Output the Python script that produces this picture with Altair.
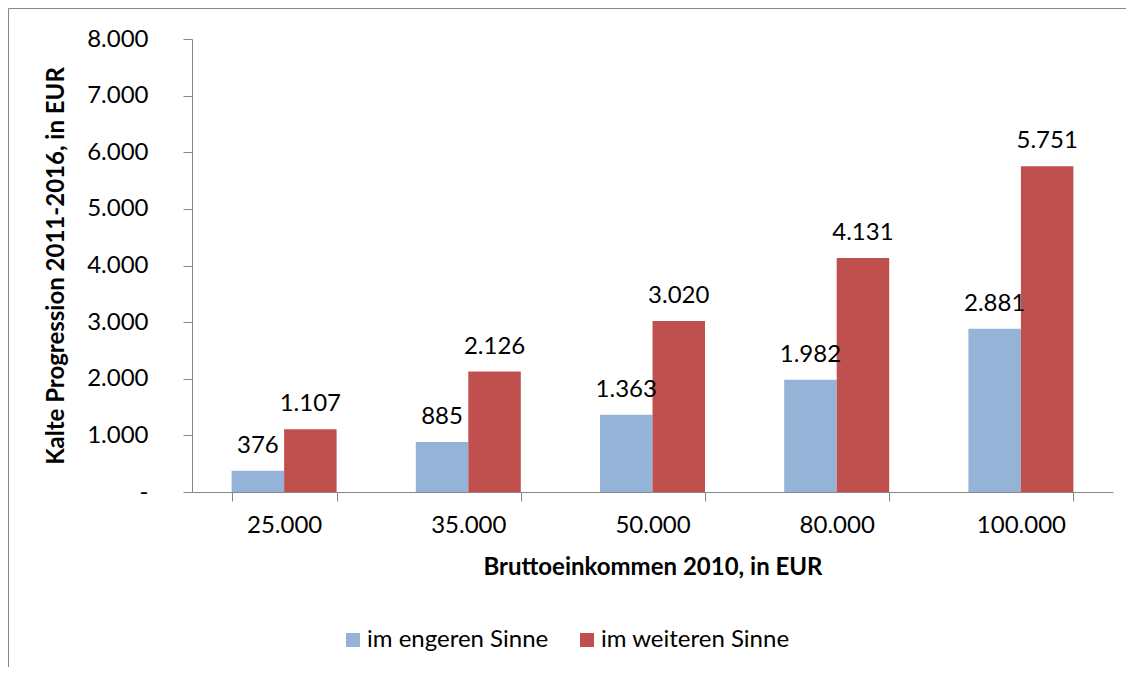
import altair as alt
import pandas as pd

categories = ["25.000", "35.000", "50.000", "80.000", "100.000"]
series_names = ["im engeren Sinne", "im weiteren Sinne"]
engeren = [376, 885, 1363, 1982, 2881]
weiteren = [1107, 2126, 3020, 4131, 5751]
colors = ["#95B3D7", "#C0504D"]
y_ticks = [0, 1000, 2000, 3000, 4000, 5000, 6000, 7000, 8000]

rows = []
for c, a, b in zip(categories, engeren, weiteren):
    rows.append({"cat": c, "series": series_names[0], "value": a})
    rows.append({"cat": c, "series": series_names[1], "value": b})
df = pd.DataFrame(rows)

FONT = "Lato"
GREY = "#868686"
W, H = 921, 453

base = alt.Chart(df).transform_calculate(
    label="replace(format(datum.value, ','), ',', '.')"
)

x_enc = alt.X(
    "cat:N",
    sort=categories,
    scale=alt.Scale(paddingInner=0.43, paddingOuter=0.215),
    axis=alt.Axis(
        title="Bruttoeinkommen 2010, in EUR",
        labelAngle=0,
        tickBand="extent",
        ticks=True,
        tickSize=9,
        labelPadding=12,
        titleY=75,
        titleBaseline="middle",
    ),
)
xoff = alt.XOffset("series:N", sort=series_names)

bars = base.mark_bar().encode(
    x=x_enc,
    xOffset=xoff,
    y=alt.Y(
        "value:Q",
        scale=alt.Scale(domain=[0, 8000], nice=False),
        axis=alt.Axis(
            title="Kalte Progression 2011-2016, in EUR",
            values=y_ticks,
            tickSize=9,
            labelPadding=35,
            grid=False,
            labelExpr="datum.value == 0 ? '-\u00a0\u00a0' : replace(format(datum.value, ','), ',', '.')",
            titleX=-136,
            titleBaseline="middle",
        ),
    ),
    color=alt.Color(
        "series:N",
        sort=series_names,
        scale=alt.Scale(domain=series_names, range=colors),
        legend=alt.Legend(
            title=None,
            orient="none",
            direction="horizontal",
            legendX=149,
            legendY=589,
            symbolType="square",
            symbolSize=196,
            symbolStrokeWidth=0,
            labelFontSize=24,
            labelFont=FONT,
            labelColor="#000000",
            labelLimit=0,
            labelOffset=2,
            columnPadding=26,
        ),
    ),
)

labels = base.mark_text(
    baseline="alphabetic", dy=-18, fontSize=24, font=FONT, color="#000000"
).encode(
    x=alt.X("cat:N", sort=categories),
    xOffset=xoff,
    y=alt.Y("value:Q"),
    text="label:N",
)

frame = alt.Chart(alt.Data(values=[{"a": 1}])).mark_rect(
    filled=False, stroke=GREY, strokeWidth=1, clip=False
).encode(
    x=alt.value(-183.5), x2=alt.value(1400), y=alt.value(-30.5), y2=alt.value(1000)
)

chart = alt.layer(frame, bars, labels).properties(
    width=W,
    height=H,
    autosize=alt.AutoSizeParams(type="none"),
    padding={"left": 184, "top": 31, "right": 13, "bottom": 175},
).configure_view(stroke=None).configure_axis(
    domainColor=GREY,
    tickColor=GREY,
    labelFont=FONT,
    labelFontSize=24,
    labelColor="#000000",
    titleFont=FONT,
    titleFontSize=24,
    titleFontWeight="bold",
    titleColor="#000000",
)

chart.save("out.html", embed_options={"renderer": "svg", "actions": False})
